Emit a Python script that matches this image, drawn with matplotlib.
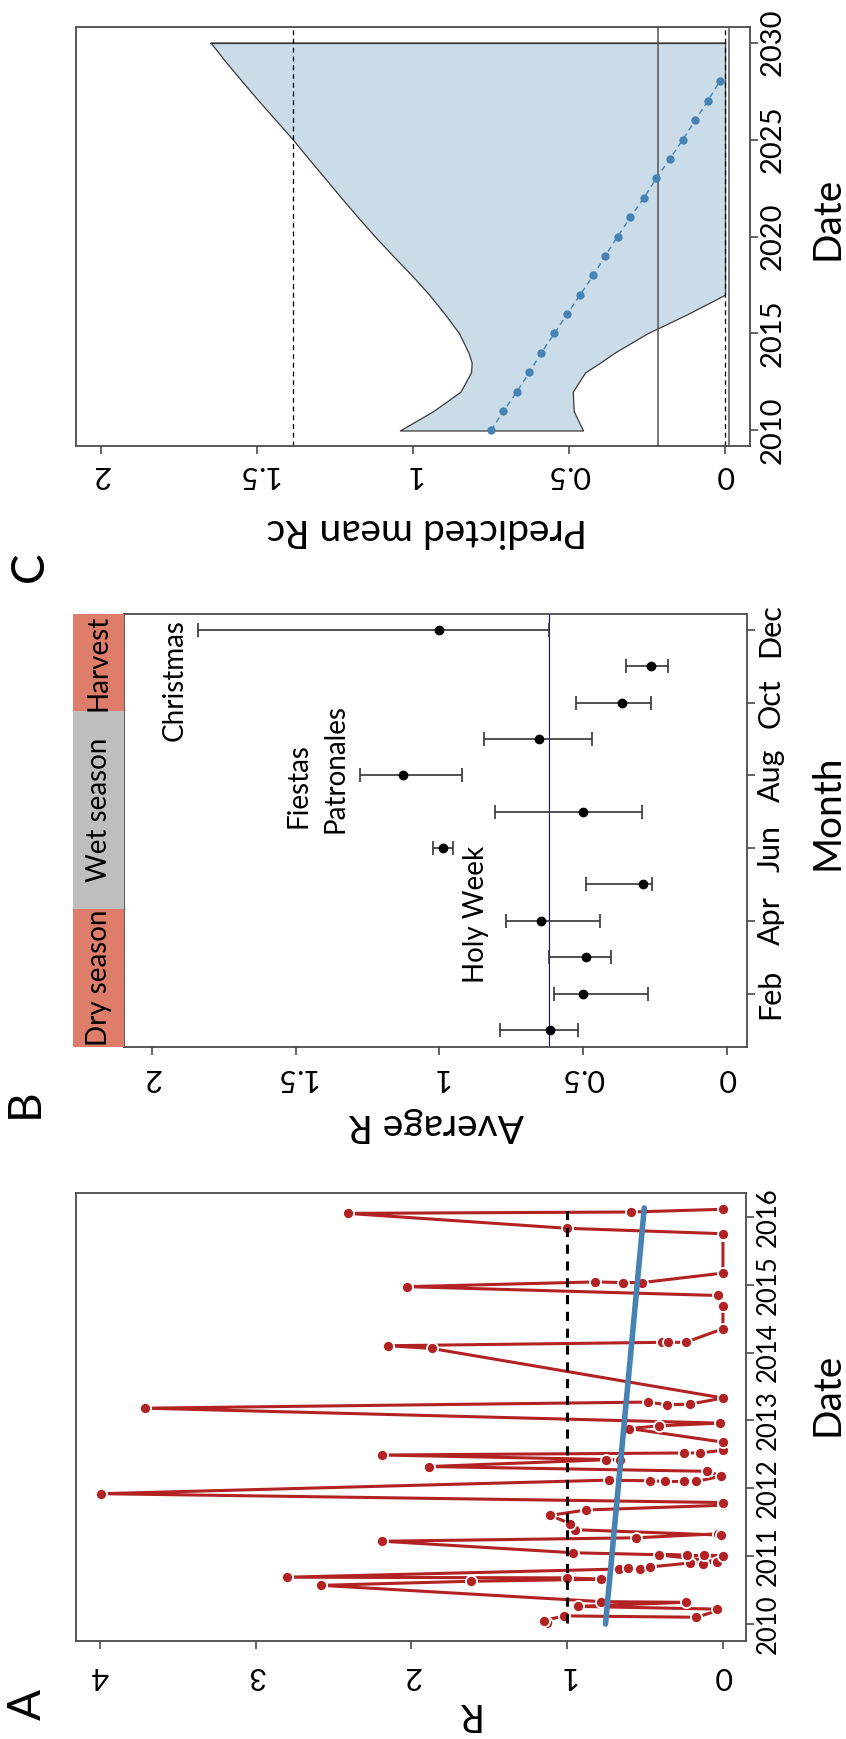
import numpy as np
import matplotlib
matplotlib.use("Agg")
import matplotlib.pyplot as plt

plt.rcParams['font.family'] = ['Lato', 'DejaVu Sans']

# ---- panel A: R over time (decimal year, R)
a_dates = [2010.01, 2010.05, 2010.12, 2010.10, 2010.20, 2010.22, 2010.26, 2010.32, 2010.33,
           2010.57, 2010.63, 2010.66, 2010.68, 2010.69, 2010.81, 2010.82, 2010.81, 2010.84,
           2010.90, 2010.89, 2010.92, 2011.02, 2011.01, 2011.01, 2011.00, 2011.05, 2011.22,
           2011.27, 2011.33, 2011.31, 2011.39, 2011.48, 2011.60, 2011.68, 2011.75, 2011.79,
           2011.92, 2012.12, 2012.11, 2012.10, 2012.10, 2012.10, 2012.18, 2012.25, 2012.32,
           2012.42, 2012.42, 2012.49, 2012.52, 2012.52, 2012.56, 2012.68, 2012.88, 2012.92,
           2012.96, 2013.18, 2013.27, 2013.23, 2013.24, 2013.33, 2014.06, 2014.10, 2014.15,
           2014.15, 2014.15, 2014.35, 2014.69, 2014.84, 2014.97, 2015.04, 2015.03, 2015.03,
           2015.17, 2015.73, 2015.75, 2015.83, 2016.05, 2016.07, 2016.11]
a_R = [1.13, 1.15, 1.02, 0.17, 0.03, 0.04, 0.93, 0.24, 0.78,
       2.58, 1.62, 0.78, 1.00, 2.80, 0.67, 0.61, 0.53, 0.47,
       0.21, 0.13, 0.04, 0.41, 0.23, 0.12, 0.0, 0.96, 2.19,
       0.56, 0.03, 0.01, 0.95, 0.98, 1.11, 0.88, 0.0, 0.0,
       3.99, 0.73, 0.47, 0.37, 0.25, 0.17, 0.01, 0.10, 1.89,
       0.75, 0.66, 2.19, 0.25, 0.15, 0.0, 0.0, 0.60, 0.41,
       0.02, 3.71, 0.48, 0.36, 0.21, 0.0, 1.87, 2.15, 0.39,
       0.35, 0.24, 0.0, 0.0, 0.03, 2.03, 0.82, 0.64, 0.52,
       0.0, 0.0, 0.0, 1.00, 2.41, 0.59, 0.0]
a_trend_dates = [2010.0, 2016.13]
a_trend_R = [0.754, 0.505]
a_threshold = 1.0
a_years = [2010, 2011, 2012, 2013, 2014, 2015, 2016]

# ---- panel B: average R by month
months = list(range(1, 13))
month_labels = ['Feb', 'Apr', 'Jun', 'Aug', 'Oct', 'Dec']
month_label_pos = [2, 4, 6, 8, 10, 12]
b_mean = [0.615, 0.502, 0.489, 0.645, 0.291, 0.987, 0.502, 1.126, 0.652, 0.365, 0.263, 1.00]
b_low = [0.517, 0.273, 0.402, 0.440, 0.261, 0.951, 0.295, 0.921, 0.468, 0.265, 0.205, 0.618]
b_high = [0.788, 0.600, 0.618, 0.769, 0.490, 1.023, 0.806, 1.276, 0.844, 0.524, 0.352, 1.84]
b_overall = 0.617
seasons = ['Dry season', 'Wet season', 'Harvest']
season_start = [0.53, 4.33, 9.76]
season_end = [4.33, 9.76, 12.44]
season_colors = ['#DF7D6B', '#BEBEBE', '#DF7D6B']
events = ['Christmas', 'Fiestas', 'Patronales', 'Holy Week']
event_R = [1.92, 1.49, 1.36, 0.873]
event_month = [10.63, 7.72, 8.2, 4.17]

# ---- panel C: predicted mean Rc
c_years = [2010, 2011, 2012, 2013, 2013.5, 2014, 2015, 2016, 2017, 2018, 2019, 2020,
           2021, 2022, 2023, 2024, 2025, 2026, 2027, 2028, 2029, 2030]
c_upper = [1.042, 0.935, 0.848, 0.814, 0.812, 0.822, 0.852, 0.898, 0.948, 1.004, 1.064, 1.122,
           1.177, 1.23, 1.282, 1.334, 1.385, 1.44, 1.495, 1.548, 1.60, 1.649]
c_lower = [0.455, 0.485, 0.488, 0.448, 0.40, 0.355, 0.25, 0.12, 0.0, 0.0, 0.0, 0.0,
           0.0, 0.0, 0.0, 0.0, 0.0, 0.0, 0.0, 0.0, 0.0, 0.0]
c_mean_years = list(range(2010, 2029))
c_mean = [0.75, 0.71, 0.667, 0.627, 0.589, 0.547, 0.506, 0.464, 0.422, 0.384,
          0.344, 0.303, 0.26, 0.22, 0.177, 0.135, 0.095, 0.055, 0.017]
c_dashed_refs = [1.385, 0.0]
c_solid_refs = [0.216, -0.012]
c_ticks_years = [2010, 2015, 2020, 2025, 2030]

r_ticks = [0, 0.5, 1, 1.5, 2]
r_ticklabels = ['0', '0.5', '1', '1.5', '2']

W, H = 846, 1739
fig = plt.figure(figsize=(W / 100, H / 100), dpi=100)

edge = '#4a4a4a'


def box(l, t, r, b):
    return [l / W, 1 - b / H, (r - l) / W, (b - t) / H]


def style(ax, xpad, ysize):
    for s in ax.spines.values():
        s.set_color(edge)
        s.set_linewidth(1.3)
    ax.xaxis.tick_bottom()
    ax.yaxis.tick_right()
    ax.tick_params(axis='x', length=6, width=1.2, color=edge, labelsize=22,
                   labelrotation=180, pad=xpad)
    ax.tick_params(axis='y', length=6, width=1.2, color=edge, labelsize=ysize,
                   labelrotation=90, pad=0.8)
    for lab in ax.get_yticklabels():
        lab.set_va('center')


# ---------- panel C
axc = fig.add_axes(box(76, 27, 750, 446))
axc.fill_betweenx(c_years, c_lower, c_upper, facecolor='#C9DCE8',
                  edgecolor='#3a3a3a', linewidth=0.9)
axc.plot([c_lower[-1], c_upper[-1]], [c_years[-1], c_years[-1]], color='#3a3a3a', lw=0.9)
for v in c_dashed_refs:
    axc.axvline(v, color='black', lw=0.9, ls=(0, (4, 3)))
for v in c_solid_refs:
    axc.axvline(v, color='#555555', lw=1.1)
axc.plot(c_mean, c_mean_years, color='#4682B4', lw=1, ls=(0, (4, 3)))
axc.plot(c_mean, c_mean_years, 'o', color='#4682B4', ms=6, mec='none')
axc.set_xlim(2.08, -0.08)
axc.set_ylim(2009.2, 2030.8)
axc.set_xticks(r_ticks, r_ticklabels)
axc.set_yticks(c_ticks_years)
style(axc, 5, 21)

# ---------- panel B
axb = fig.add_axes(box(124, 614, 747, 1047))
axb.axvline(b_overall, color='blue', lw=0.8)
b_err = [np.array(b_mean) - np.array(b_low), np.array(b_high) - np.array(b_mean)]
axb.errorbar(b_mean, months, xerr=b_err, fmt='o', color='black', ms=6,
             ecolor='#333333', elinewidth=1.2, capsize=5, capthick=1.2)
for name, rv, mv in zip(events, event_R, event_month):
    axb.text(rv, mv, name, rotation=90, ha='center', va='center', fontsize=20)
axb.set_xlim(2.097, -0.07)
axb.set_ylim(0.53, 12.44)
axb.set_xticks(r_ticks, r_ticklabels)
axb.set_yticks(month_label_pos, month_labels)
style(axb, 6.5, 22)

axs = fig.add_axes(box(73, 614, 124, 1047))
for name, s0, s1, col in zip(seasons, season_start, season_end, season_colors):
    axs.axhspan(s0, s1, color=col, lw=0)
    axs.text(0.5, (s0 + s1) / 2, name, rotation=90, ha='center', va='center', fontsize=20)
axs.set_xlim(0, 1)
axs.set_ylim(0.53, 12.44)
axs.axis('off')

# ---------- panel A (points with a small gap around them, like type="b")
axa = fig.add_axes(box(76, 1193, 746, 1641))
axa.plot(a_R, a_dates, '-', color='#B22222', lw=2.2)
axa.plot(a_R, a_dates, 'o', color='#B22222', ms=8, mec='white', mew=1.3)
axa.plot([a_threshold, a_threshold], [min(a_dates), max(a_dates)], color='black',
         lw=2.2, ls=(0, (3, 2.5)))
axa.plot(a_trend_R, a_trend_dates, color='#4682B4', lw=4, solid_capstyle='round')
axa.set_xlim(4.153, -0.148)
axa.set_ylim(2009.75, 2016.35)
axa.set_xticks([0, 1, 2, 3, 4])
axa.set_yticks(a_years)
style(axa, 9, 18.5)

# ---------- labels
def t(x, y, s, rot, size):
    fig.text(x / W, 1 - y / H, s, rotation=rot, ha='center', va='center', fontsize=size)


t(427, 530, 'Predicted mean Rc', 180, 28)
t(827, 218, 'Date', 90, 28)
t(30, 567, 'C', 90, 33)
t(436, 1125, 'Average R', 180, 28)
t(827, 812, 'Month', 90, 28)
t(25, 1103, 'B', 90, 33)
t(466, 1714, 'R', 180, 28)
t(827, 1394, 'Date', 90, 28)
t(28, 1704, 'A', 90, 33)

fig.savefig('out.png', dpi=100)
